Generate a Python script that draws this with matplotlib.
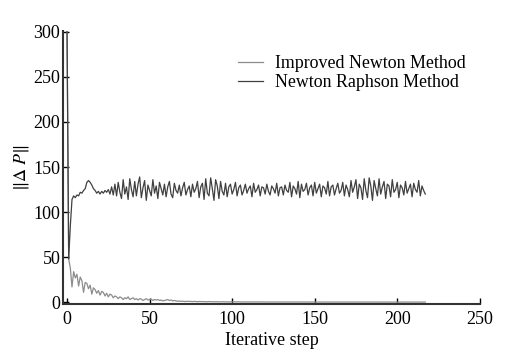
import matplotlib
matplotlib.use("Agg")
import matplotlib.pyplot as plt

plt.rcParams["font.family"] = ["Liberation Serif", "DejaVu Serif"]
plt.rcParams["mathtext.fontset"] = "stix"

# ||dP|| per iteration
improved = [
    300, 48, 38, 17, 34, 27, 31, 18, 28, 24,
    11, 22, 21, 15, 19, 9, 16, 14, 10, 13,
    8, 12, 11, 7, 10, 6, 9, 8, 5, 7,
    6, 4, 6, 5, 3, 5, 4, 6, 3, 4,
    5, 3, 4, 2.5, 4, 3.5, 2, 3, 4, 2.5,
    3, 3.5, 2, 3, 2.5, 3, 2, 2.5, 1.5, 2,
    2.5, 3, 2, 2.5, 1.5, 2, 1.5, 1, 1.5, 1,
    1.2, 1, 0.8, 1.2, 0.9, 1, 0.7, 1, 0.8, 0.6,
    0.9, 0.7, 0.8, 0.6, 0.7, 0.5, 0.8, 0.6, 0.5, 0.7,
    0.5, 0.6, 0.5, 0.4, 0.6, 0.5, 0.4, 0.5, 0.4, 0.5,
    0.4, 0.5, 0.4, 0.4, 0.5, 0.4, 0.3, 0.4, 0.4, 0.3,
    0.4, 0.3, 0.4, 0.3, 0.3, 0.4, 0.3, 0.3, 0.4, 0.3,
    0.3, 0.3, 0.4, 0.3, 0.3, 0.3, 0.3, 0.2, 0.3, 0.3,
    0.3, 0.2, 0.3, 0.3, 0.2, 0.3, 0.2, 0.3, 0.2, 0.2,
    0.3, 0.2, 0.2, 0.3, 0.2, 0.2, 0.2, 0.3, 0.2, 0.2,
    0.2, 0.2, 0.3, 0.2, 0.2, 0.2, 0.2, 0.2, 0.2, 0.2,
    0.2, 0.2, 0.2, 0.2, 0.2, 0.2, 0.2, 0.2, 0.2, 0.2,
    0.2, 0.2, 0.2, 0.2, 0.2, 0.2, 0.2, 0.2, 0.2, 0.2,
    0.2, 0.2, 0.2, 0.2, 0.2, 0.2, 0.2, 0.2, 0.2, 0.2,
    0.2, 0.2, 0.2, 0.2, 0.2, 0.2, 0.2, 0.2, 0.2, 0.2,
    0.2, 0.2, 0.2, 0.2, 0.2, 0.2, 0.2, 0.2, 0.2, 0.2,
    0.2, 0.2, 0.2, 0.2, 0.2, 0.2, 0.2, 0.2,
]
newton_raphson = [
    300, 48, 85, 114, 118, 116, 119, 118, 122, 121,
    124, 126, 133, 135, 133, 130, 126, 124, 121, 123,
    120, 123, 121, 124, 122, 125, 120, 128, 119, 131,
    118, 133, 122, 115, 136, 120, 128, 114, 137, 125,
    117, 134, 118, 131, 139, 116, 127, 135, 113, 130,
    124, 118, 136, 121, 129, 115, 133, 126, 119, 131,
    117, 128, 134, 120, 116, 132, 124, 121, 130, 118,
    127, 133, 119, 125, 129, 117, 131, 122, 126, 134,
    116, 128, 132, 114, 137, 121, 118, 138, 126, 113,
    136, 129, 115, 134, 123, 119, 132, 117, 128, 131,
    120, 125, 133, 118, 127, 130, 119, 124, 131, 121,
    126, 129, 117, 132, 122, 125, 130, 118, 128, 127,
    120, 131, 123, 119, 129, 126, 121, 132, 118, 127,
    128, 119, 130, 124, 122, 133, 117, 129, 126, 120,
    134, 116, 131, 123, 125, 132, 119, 127, 130, 118,
    133, 121, 126, 131, 117, 129, 127, 120, 134, 118,
    128, 130, 119, 126, 132, 121, 124, 133, 118, 130,
    125, 117, 135, 122, 128, 136, 115, 131, 127, 114,
    137, 124, 116, 138, 129, 113, 135, 126, 118, 137,
    120, 128, 134, 115, 131, 129, 117, 136, 122, 125,
    133, 116, 130, 127, 119, 134, 121, 126, 131, 117,
    132, 125, 122, 135, 118, 129, 124, 120,
]
steps = list(range(len(newton_raphson)))
steps_imp = list(range(len(improved)))

fig = plt.figure(figsize=(5.17, 3.59), dpi=100)
ax = fig.add_axes([0.122, 0.153, 0.806, 0.761])

ax.plot(steps_imp, improved, color="#8c8c8c", lw=0.9, label="Improved Newton Method")
ax.plot(steps, newton_raphson, color="#404040", lw=0.9, label="Newton Raphson Method")

ax.set_xlim(-2.4, 250)
ax.set_ylim(-2, 301)
ax.set_xticks(range(0, 251, 50))
ax.set_yticks(range(0, 301, 50))
ax.tick_params(direction="in", length=4, width=1, labelsize=13)
ax.tick_params(axis="x", pad=5)
ax.tick_params(axis="y", pad=2)
for s in ("top", "right"):
    ax.spines[s].set_visible(False)
for s in ("left", "bottom"):
    ax.spines[s].set_linewidth(1.5)
    ax.spines[s].set_color("#333333")

ax.set_xlabel("Iterative step", fontsize=13, labelpad=3)
ax.set_ylabel(r"$\|\Delta\ P\|$", fontsize=13, labelpad=2)

ax.legend(loc="upper right", bbox_to_anchor=(1.005, 0.97), frameon=False,
          fontsize=12.9, handlelength=1.4, handletextpad=0.65, labelspacing=0.1)

fig.savefig("out.png", dpi=100)
